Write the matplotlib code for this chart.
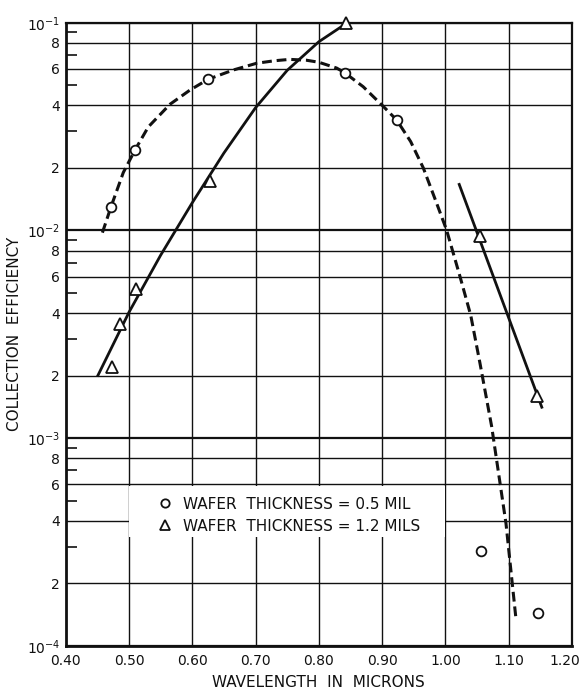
import numpy as np
import matplotlib
matplotlib.use("Agg")
import matplotlib.pyplot as plt
import matplotlib.transforms as mtransforms
from matplotlib.lines import Line2D
from matplotlib.patches import Rectangle
from matplotlib.ticker import FixedLocator, NullFormatter

# measured points, wafer 0.5 mil (circles) and 1.2 mils (triangles)
wl_thin = [0.472, 0.510, 0.625, 0.841, 0.923, 1.056, 1.146]
eff_thin = [0.0130, 0.0244, 0.0534, 0.0574, 0.034, 2.87e-4, 1.44e-4]
wl_thick = [0.473, 0.486, 0.511, 0.628, 0.843, 1.055, 1.145]
eff_thick = [0.0022, 0.00354, 0.00521, 0.0173, 0.100, 0.0094, 0.0016]

# hand-drawn fit curves
fit_thin_x = [0.458, 0.4716, 0.491, 0.5095, 0.5305, 0.5648, 0.5964, 0.625, 0.6648, 0.7017,
              0.730, 0.754, 0.780, 0.800, 0.828, 0.841, 0.870, 0.902, 0.923, 0.945,
              0.965, 0.985, 1.002, 1.023, 1.040, 1.0545, 1.073, 1.0956, 1.111]
fit_thin_y = [0.00976, 0.0130, 0.0190, 0.0244, 0.0315, 0.0405, 0.0474, 0.0534, 0.0592, 0.0638,
              0.0656, 0.0666, 0.0660, 0.0645, 0.0605, 0.0574, 0.0492, 0.0395, 0.0340, 0.0268,
              0.0200, 0.0138, 0.0100, 0.0060, 0.0039, 0.0023, 0.00114, 3.9e-4, 1.39e-4]
fit_thick_x = [0.450, 0.500, 0.550, 0.600, 0.650, 0.700, 0.750, 0.800, 0.845]
fit_thick_y = [0.00198, 0.00404, 0.0076, 0.0136, 0.0236, 0.0390, 0.0590, 0.0810, 0.100]
fit_ir_x = [1.021, 1.153]
fit_ir_y = [0.0169, 0.00139]

x_ticks = [0.40, 0.50, 0.60, 0.70, 0.80, 0.90, 1.00, 1.10, 1.20]
decades = [1e-4, 1e-3, 1e-2, 1e-1]
grid_mults = [1, 2, 4, 6, 8]
minor_mults = [3, 5, 7, 9]

ink = "#111111"
plt.rcParams["font.family"] = ["DejaVu Sans"]

fig = plt.figure(figsize=(5.84, 6.90), dpi=100)
ax = fig.add_axes([0.1125, 0.0638, 0.867, 0.9033])
ax.set_yscale("log")
ax.set_xlim(0.40, 1.20)
ax.set_ylim(1e-4, 1e-1)

grid_vals = [m * d for d in decades[:-1] for m in grid_mults] + [decades[-1]]
minor_vals = [m * d for d in decades[:-1] for m in minor_mults]

# grid
for v in grid_vals:
    lw = 1.6 if v in decades else 1.0
    ax.axhline(v, color=ink, lw=lw, zorder=1)
for x in x_ticks[1:-1]:
    ax.axvline(x, color=ink, lw=1.0, zorder=1)

# blank area behind the key
ax.add_patch(Rectangle((0.50, 3.35e-4), 0.50, 5.9e-4 - 3.35e-4, facecolor="white",
                       edgecolor="none", zorder=1.5))

ax.plot(fit_thin_x, fit_thin_y, color=ink, lw=2.2, dashes=(3.2, 1.6), zorder=2)
ax.plot(fit_thick_x, fit_thick_y, color=ink, lw=2.0, zorder=2, solid_capstyle="butt")
ax.plot(fit_ir_x, fit_ir_y, color=ink, lw=2.0, zorder=2, solid_capstyle="butt")

ax.plot(wl_thin, eff_thin, ls="none", marker="o", ms=7, mfc="white", mec=ink, mew=1.3,
        zorder=3, clip_on=False)
ax.plot(wl_thick, eff_thick, ls="none", marker="^", ms=8.5, mfc="white", mec=ink, mew=1.3,
        zorder=3, clip_on=False)

# ticks
ax.yaxis.set_major_locator(FixedLocator(grid_vals))
ylabels = []
for v in grid_vals:
    if v in decades:
        ylabels.append(r"$\mathregular{10^{%d}}$" % round(np.log10(v)))
    else:
        ylabels.append("%d" % round(v / 10 ** np.floor(np.log10(v) + 1e-9)))
ax.set_yticklabels(ylabels)
ax.yaxis.set_minor_locator(FixedLocator(minor_vals))
ax.yaxis.set_minor_formatter(NullFormatter())
ax.tick_params(axis="y", which="major", length=0, pad=4, labelsize=10, colors=ink)
ax.tick_params(axis="y", which="minor", direction="in", length=8, width=1.2, color=ink)
ax.set_xticks(x_ticks)
ax.set_xticklabels(["%.2f" % x for x in x_ticks])
ax.tick_params(axis="x", which="major", length=0, pad=6, labelsize=10, colors=ink)
ax.xaxis.set_minor_locator(FixedLocator([]))
# last label sits against the right edge of the sheet
last = ax.get_xticklabels()[-1]
last.set_transform(last.get_transform() + mtransforms.ScaledTranslation(-5 / 72, 0, fig.dpi_scale_trans))

for side, spine in ax.spines.items():
    spine.set_color(ink)
    spine.set_linewidth(2.0 if side in ("left", "bottom") else 1.6)
    spine.set_zorder(2.5)

ax.set_xlabel("WAVELENGTH  IN  MICRONS", fontsize=11, color=ink, labelpad=5)
ax.set_ylabel("COLLECTION  EFFICIENCY", fontsize=11, color=ink, labelpad=3)

handles = [
    Line2D([], [], ls="none", marker="o", ms=6, mfc="white", mec=ink, mew=1.3),
    Line2D([], [], ls="none", marker="^", ms=7, mfc="white", mec=ink, mew=1.3),
]
ax.legend(handles, ["WAFER  THICKNESS = 0.5 MIL", "WAFER  THICKNESS = 1.2 MILS"],
          loc="center left", bbox_to_anchor=(0.165, 0.21), frameon=False,
          fontsize=11, handlelength=1.0, handletextpad=0.7, labelspacing=0.45,
          borderpad=0, labelcolor=ink)

fig.savefig("out.png", dpi=100)
